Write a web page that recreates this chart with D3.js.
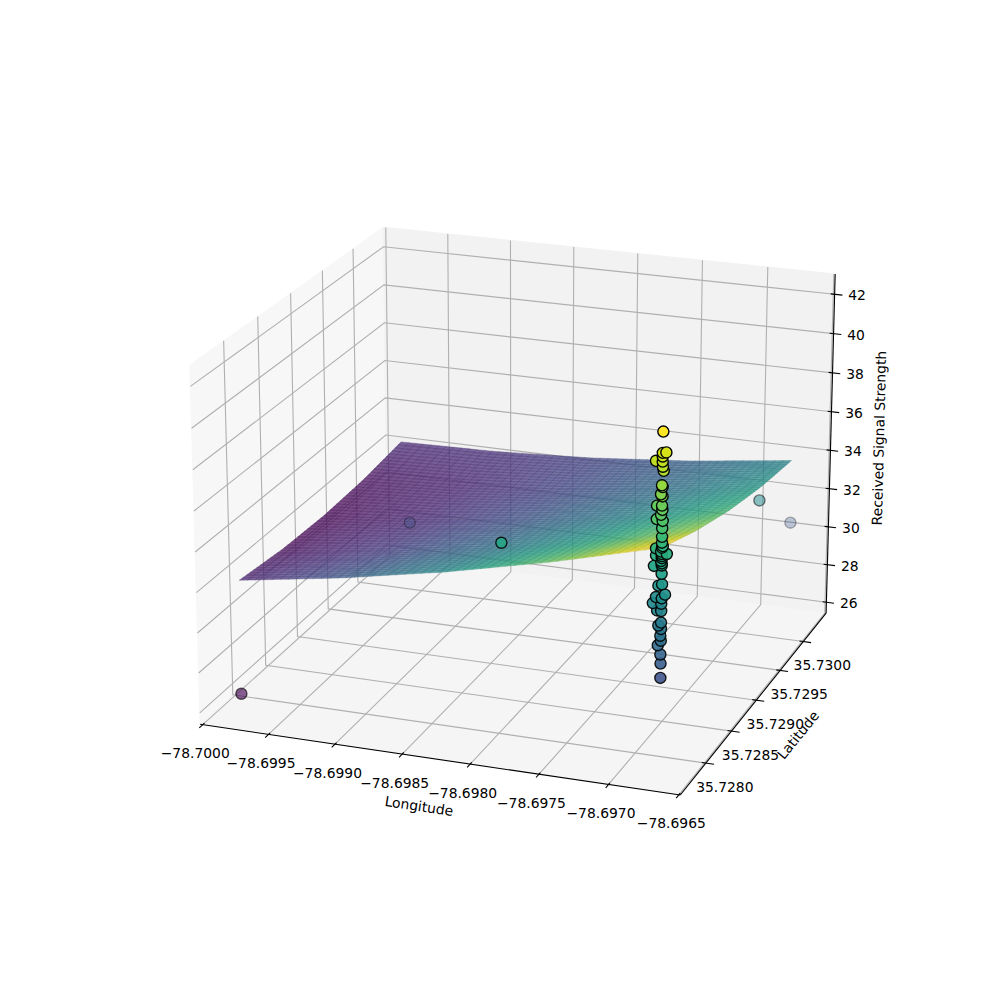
<!DOCTYPE html>
<html>
<head>
<meta charset="utf-8">
<script src="https://cdn.jsdelivr.net/npm/d3@7"></script>
<style>html,body{margin:0;padding:0;background:#fff}svg{display:block}text{font-family:"DejaVu Sans";fill:#000}</style>
</head>
<body>
<svg id="c" width="1000" height="1000"></svg>
<script>
const lonTicks = [-78.7000,-78.6995,-78.6990,-78.6985,-78.6980,-78.6975,-78.6970,-78.6965];
const latTicks = [35.7280,35.7285,35.7290,35.7295,35.7300];
const zTicks = [26,28,30,32,34,36,38,40,42];
const lonLimits = [-78.70002,-78.69649];
const latLimits = [35.72752,35.73051];
const zLimits = [25.42,43.02];

// scatter points: isolated readings first, then the dense column
const scatterLon = [-78.69990,-78.69944,-78.69794,-78.69675,-78.69678,
 -78.69679,-78.696767,-78.696792,-78.696792,-78.696839,-78.696792,-78.69679,-78.696784,-78.696795,-78.69679,-78.696801,-78.69679,-78.696828,-78.696793,-78.69679,-78.696829,-78.696799,-78.696787,-78.69679,-78.69679,-78.69679,-78.696784,-78.696832,-78.696796,-78.696755,-78.696831,-78.69679,-78.696795,-78.696845,-78.69679,-78.69679,-78.696812,-78.696786,-78.696764,-78.696828,-78.696787,-78.69685,-78.69679,-78.696819,-78.69679,-78.69679,-78.696809,-78.69679,-78.696794,-78.69679,-78.696811,-78.696792,-78.69679,-78.69679,-78.69679,-78.69679,-78.69679,-78.69679];
const scatterLat = [35.72790,35.72968,35.72791,35.72972,35.73050,
 35.72791,35.72791,35.72791,35.72791,35.72791,35.72791,35.72791,35.72791,35.72791,35.72791,35.72791,35.72791,35.72791,35.72791,35.72791,35.72791,35.72791,35.72791,35.72791,35.72791,35.72791,35.72791,35.72791,35.72791,35.72791,35.72791,35.72791,35.72791,35.72791,35.72791,35.72791,35.72791,35.72791,35.72791,35.72791,35.72791,35.72791,35.72791,35.72791,35.72791,35.72791,35.72791,35.72791,35.72791,35.72791,35.72791,35.72791,35.72791,35.72791,35.72791,35.72791,35.72791,35.72791];
const scatterZ = [25.9,30.0,35.15,33.3,30.0,
 41.39,40.43,40.39,40.22,39.98,39.98,39.74,39.55,38.86,38.78,38.43,38.34,37.87,37.90,37.70,37.23,37.46,37.18,36.83,36.42,36.14,35.98,35.83,35.71,35.63,35.50,35.50,35.26,34.98,35.05,34.65,34.06,34.15,33.67,33.50,33.47,33.19,33.21,32.86,32.86,32.30,32.14,31.99,31.66,31.42,31.18,30.75,30.31,29.61,35.9,35.6,35.4,35.15];

// fitted surface at five stations along each side
const surfaceLonRange = [-78.69990,-78.69679];
const surfaceLatRange = [35.72791,35.73052];
const surfaceZ = [
 [31.6,32.40,33.38,34.55,35.9],
 [31.325,31.95,32.755,33.75,34.925],
 [31.25,31.70,32.33,33.15,34.15],
 [31.375,31.65,32.105,32.75,33.575],
 [31.7,31.80,32.08,32.55,33.2]
];
const surfaceColorLimits = [31.25,35.5];
const meshCells = 50;

const elev = 20*Math.PI/180, azim = -70*Math.PI/180, dist = 10;
const halfXY = 0.595, halfZ = 0.446;
const sx = d3.scaleLinear().domain(lonLimits).range([-halfXY,halfXY]);
const sy = d3.scaleLinear().domain(latLimits).range([-halfXY,halfXY]);
const sz = d3.scaleLinear().domain(zLimits).range([-halfZ,halfZ]);
const screenX = d3.scaleLinear().domain([-0.095,0.09]).range([128,898]);
const screenY = d3.scaleLinear().domain([-0.095,0.09]).range([890.5,120.5]);

const w = [Math.cos(elev)*Math.cos(azim),Math.cos(elev)*Math.sin(azim),Math.sin(elev)];
const un = Math.hypot(w[0],w[1]);
const u = [-w[1]/un,w[0]/un,0];
const v = [w[1]*u[2]-w[2]*u[1],w[2]*u[0]-w[0]*u[2],w[0]*u[1]-w[1]*u[0]];
const dot=(a,b)=>a[0]*b[0]+a[1]*b[1]+a[2]*b[2];
function projN(d){
  const den = dist-dot(w,d);
  return {x:screenX(dot(u,d)/den),y:screenY(dot(v,d)/den),den};
}
const proj=(lon,lat,z)=>projN([sx(lon),sy(lat),sz(z)]);

const svg = d3.select('#c');
svg.append('rect').attr('width',1000).attr('height',1000).attr('fill','#fff');
const line = pts=>'M'+pts.map(p=>p.x.toFixed(2)+','+p.y.toFixed(2)).join('L');

const [x0,x1]=lonLimits,[y0,y1]=latLimits,[z0,z1]=zLimits;
const panes=[
 {c:'#f7f7f7',p:[[x0,y0,z0],[x0,y1,z0],[x0,y1,z1],[x0,y0,z1]]},
 {c:'#f2f2f2',p:[[x0,y1,z0],[x1,y1,z0],[x1,y1,z1],[x0,y1,z1]]},
 {c:'#f5f5f5',p:[[x0,y0,z0],[x1,y0,z0],[x1,y1,z0],[x0,y1,z0]]}
];
svg.append('g').selectAll('path').data(panes).join('path')
 .attr('d',d=>line(d.p.map(q=>proj(...q)))+'Z').attr('fill',d=>d.c).attr('stroke',d=>d.c).attr('stroke-width',1);

const grid=svg.append('g').attr('fill','none').attr('stroke','#b0b0b0').attr('stroke-width',1.11);
lonTicks.forEach(t=>grid.append('path').attr('d',line([proj(t,y0,z0),proj(t,y1,z0),proj(t,y1,z1)])));
latTicks.forEach(t=>grid.append('path').attr('d',line([proj(x1,t,z0),proj(x0,t,z0),proj(x0,t,z1)])));
zTicks.forEach(t=>grid.append('path').attr('d',line([proj(x1,y1,t),proj(x0,y1,t),proj(x0,y0,t)])));

const axes=svg.append('g').attr('fill','none').attr('stroke','#000').attr('stroke-width',1.11);
axes.append('path').attr('d',line([proj(x0,y0,z0),proj(x1,y0,z0)]));
axes.append('path').attr('d',line([proj(x1,y0,z0),proj(x1,y1,z0)]));
axes.append('path').attr('d',line([proj(x1,y1,z0),proj(x1,y1,z1)]));
const deltaN=2*halfXY/12, outF=0.2, inF=0.1;
const labels=svg.append('g').attr('font-size','13.89px').attr('text-anchor','middle').attr('dominant-baseline','central');
const fmt4=d3.format('.4f');
const minus=s=>s.replace('-','\u2212');
lonTicks.forEach(t=>{
  const a=projN([sx(t),-halfXY-outF*deltaN,-halfZ]),b=projN([sx(t),-halfXY+inF*deltaN,-halfZ]),c=proj(t,y0,z0);
  axes.append('path').attr('d',line([a,b]));
  labels.append('text').attr('x',c.x-7.5).attr('y',c.y+28.5).text(minus(fmt4(t)));
});
latTicks.forEach(t=>{
  const a=projN([halfXY+outF*deltaN,sy(t),-halfZ]),b=projN([halfXY-inF*deltaN,sy(t),-halfZ]),c=proj(x1,t,z0);
  axes.append('path').attr('d',line([a,b]));
  labels.append('text').attr('x',c.x+19).attr('y',c.y+23.5).text(fmt4(t));
});
zTicks.forEach(t=>{
  const a=projN([halfXY+outF*deltaN,halfXY,sz(t)]),b=projN([halfXY-inF*deltaN,halfXY,sz(t)]),c=proj(x1,y1,t);
  axes.append('path').attr('d',line([a,b]));
  labels.append('text').attr('x',c.x+22.5).attr('y',c.y+1).text(t);
});
const axisLabels=svg.append('g').attr('font-size','13.89px').attr('text-anchor','middle').attr('dominant-baseline','central');
axisLabels.append('text').attr('transform','translate(419,806) rotate(8.5)').text('Longitude');
axisLabels.append('text').attr('transform','translate(798,735) rotate(-51)').text('Latitude');
axisLabels.append('text').attr('transform','translate(879,438) rotate(-88.6)').text('Received Signal Strength');

// surface mesh
function zAt(a,b){
  const n=surfaceZ.length-1,fa=a*n,fb=b*n;
  const i=Math.min(Math.floor(fa),n-1),j=Math.min(Math.floor(fb),n-1),ta=fa-i,tb=fb-j;
  return d3.interpolateNumber(
    d3.interpolateNumber(surfaceZ[j][i],surfaceZ[j][i+1])(ta),
    d3.interpolateNumber(surfaceZ[j+1][i],surfaceZ[j+1][i+1])(ta))(tb);
}
const lonMesh=d3.scaleLinear().domain([0,1]).range(surfaceLonRange);
const latMesh=d3.scaleLinear().domain([0,1]).range(surfaceLatRange);
const surfColor=d3.scaleSequential(d3.interpolateViridis).domain(surfaceColorLimits).clamp(true);
const cells=[];
for(let i=0;i<meshCells;i++)for(let j=0;j<meshCells;j++){
  const c=[[i,j],[i+1,j],[i+1,j+1],[i,j+1]].map(([a,b])=>{
    const ua=a/meshCells,ub=b/meshCells,z=zAt(ua,ub);
    return {z,p:proj(lonMesh(ua),latMesh(ub),z)};
  });
  cells.push({pts:c.map(q=>q.p),z:d3.mean(c,q=>q.z),den:d3.mean(c,q=>q.p.den)});
}
cells.sort((a,b)=>b.den-a.den);
const edgeColor=d=>d3.interpolateRgb(surfColor(d.z),'#555')(0.35);
svg.append('g').selectAll('path').data(cells).join('path')
 .attr('d',d=>line(d.pts)+'Z').attr('fill',d=>surfColor(d.z)).attr('fill-opacity',0.72)
 .attr('stroke',edgeColor).attr('stroke-opacity',0.6).attr('stroke-width',0.6);

// scatter
const pts=scatterZ.map((z,i)=>{const p=proj(scatterLon[i],scatterLat[i],z);return {...p,z};});
const dens=d3.extent(pts,d=>d.den);
const alpha=d3.scaleLinear().domain(dens).range([1,0.3]);
const color=d3.scaleSequential(d3.interpolateViridis).domain(d3.extent(scatterZ));
pts.sort((a,b)=>b.den-a.den);
svg.append('g').selectAll('circle').data(pts).join('circle')
 .attr('cx',d=>d.x).attr('cy',d=>d.y).attr('r',5.55)
 .attr('fill',d=>color(d.z)).attr('fill-opacity',d=>alpha(d.den))
 .attr('stroke','#000').attr('stroke-opacity',d=>alpha(d.den)).attr('stroke-width',1.39);
</script>
</body>
</html>
